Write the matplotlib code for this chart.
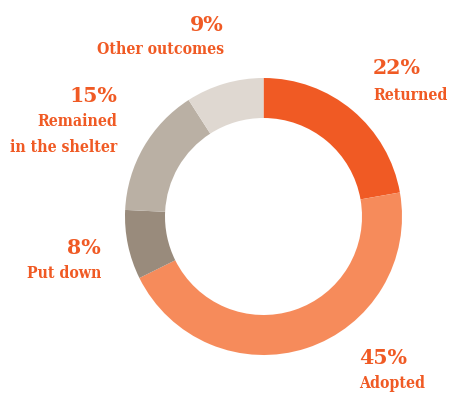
import matplotlib
matplotlib.use("Agg")
import matplotlib.pyplot as plt

# Outcome shares (percent), clockwise from the top
outcomes = ['Returned', 'Adopted', 'Put down', 'Remained\nin the shelter', 'Other outcomes']
shares = [22, 45, 8, 15, 9]
colors = ['#f05a24', '#f68b5b', '#998b7c', '#bab0a4', '#dfd8d1']

text_color = '#f05a24'
font = dict(family='DejaVu Serif', weight='bold', color=text_color)

fig = plt.figure(figsize=(4.49, 3.96), dpi=100)
ax = fig.add_axes([0, 0, 1, 1])

ax.pie(shares, colors=colors, startangle=90, counterclock=False,
       center=(263.5, 179.5), radius=138.5,
       wedgeprops=dict(width=40, linewidth=0), frame=True)
ax.set_xlim(0, 449)
ax.set_ylim(0, 396)
ax.set_aspect('equal')
ax.axis('off')

# label anchors: (x, y of percent, y of name, alignment)
label_pos = [
    (373, 328, 301, 'left'),
    (359, 38, 13, 'left'),
    (101, 148, 122, 'right'),
    (117, 300, 261.5, 'right'),
    (224, 371, 346, 'right'),
]
for name, val, (x, yp, yn, ha) in zip(outcomes, shares, label_pos):
    ax.text(x, yp, f'{val}%', ha=ha, va='center', fontsize=14.8, **font)
    ax.text(x, yn, name, ha=ha, va='center', fontsize=11.3,
            linespacing=1.62, fontstretch='condensed', **font)

fig.savefig('out.png', dpi=100)
